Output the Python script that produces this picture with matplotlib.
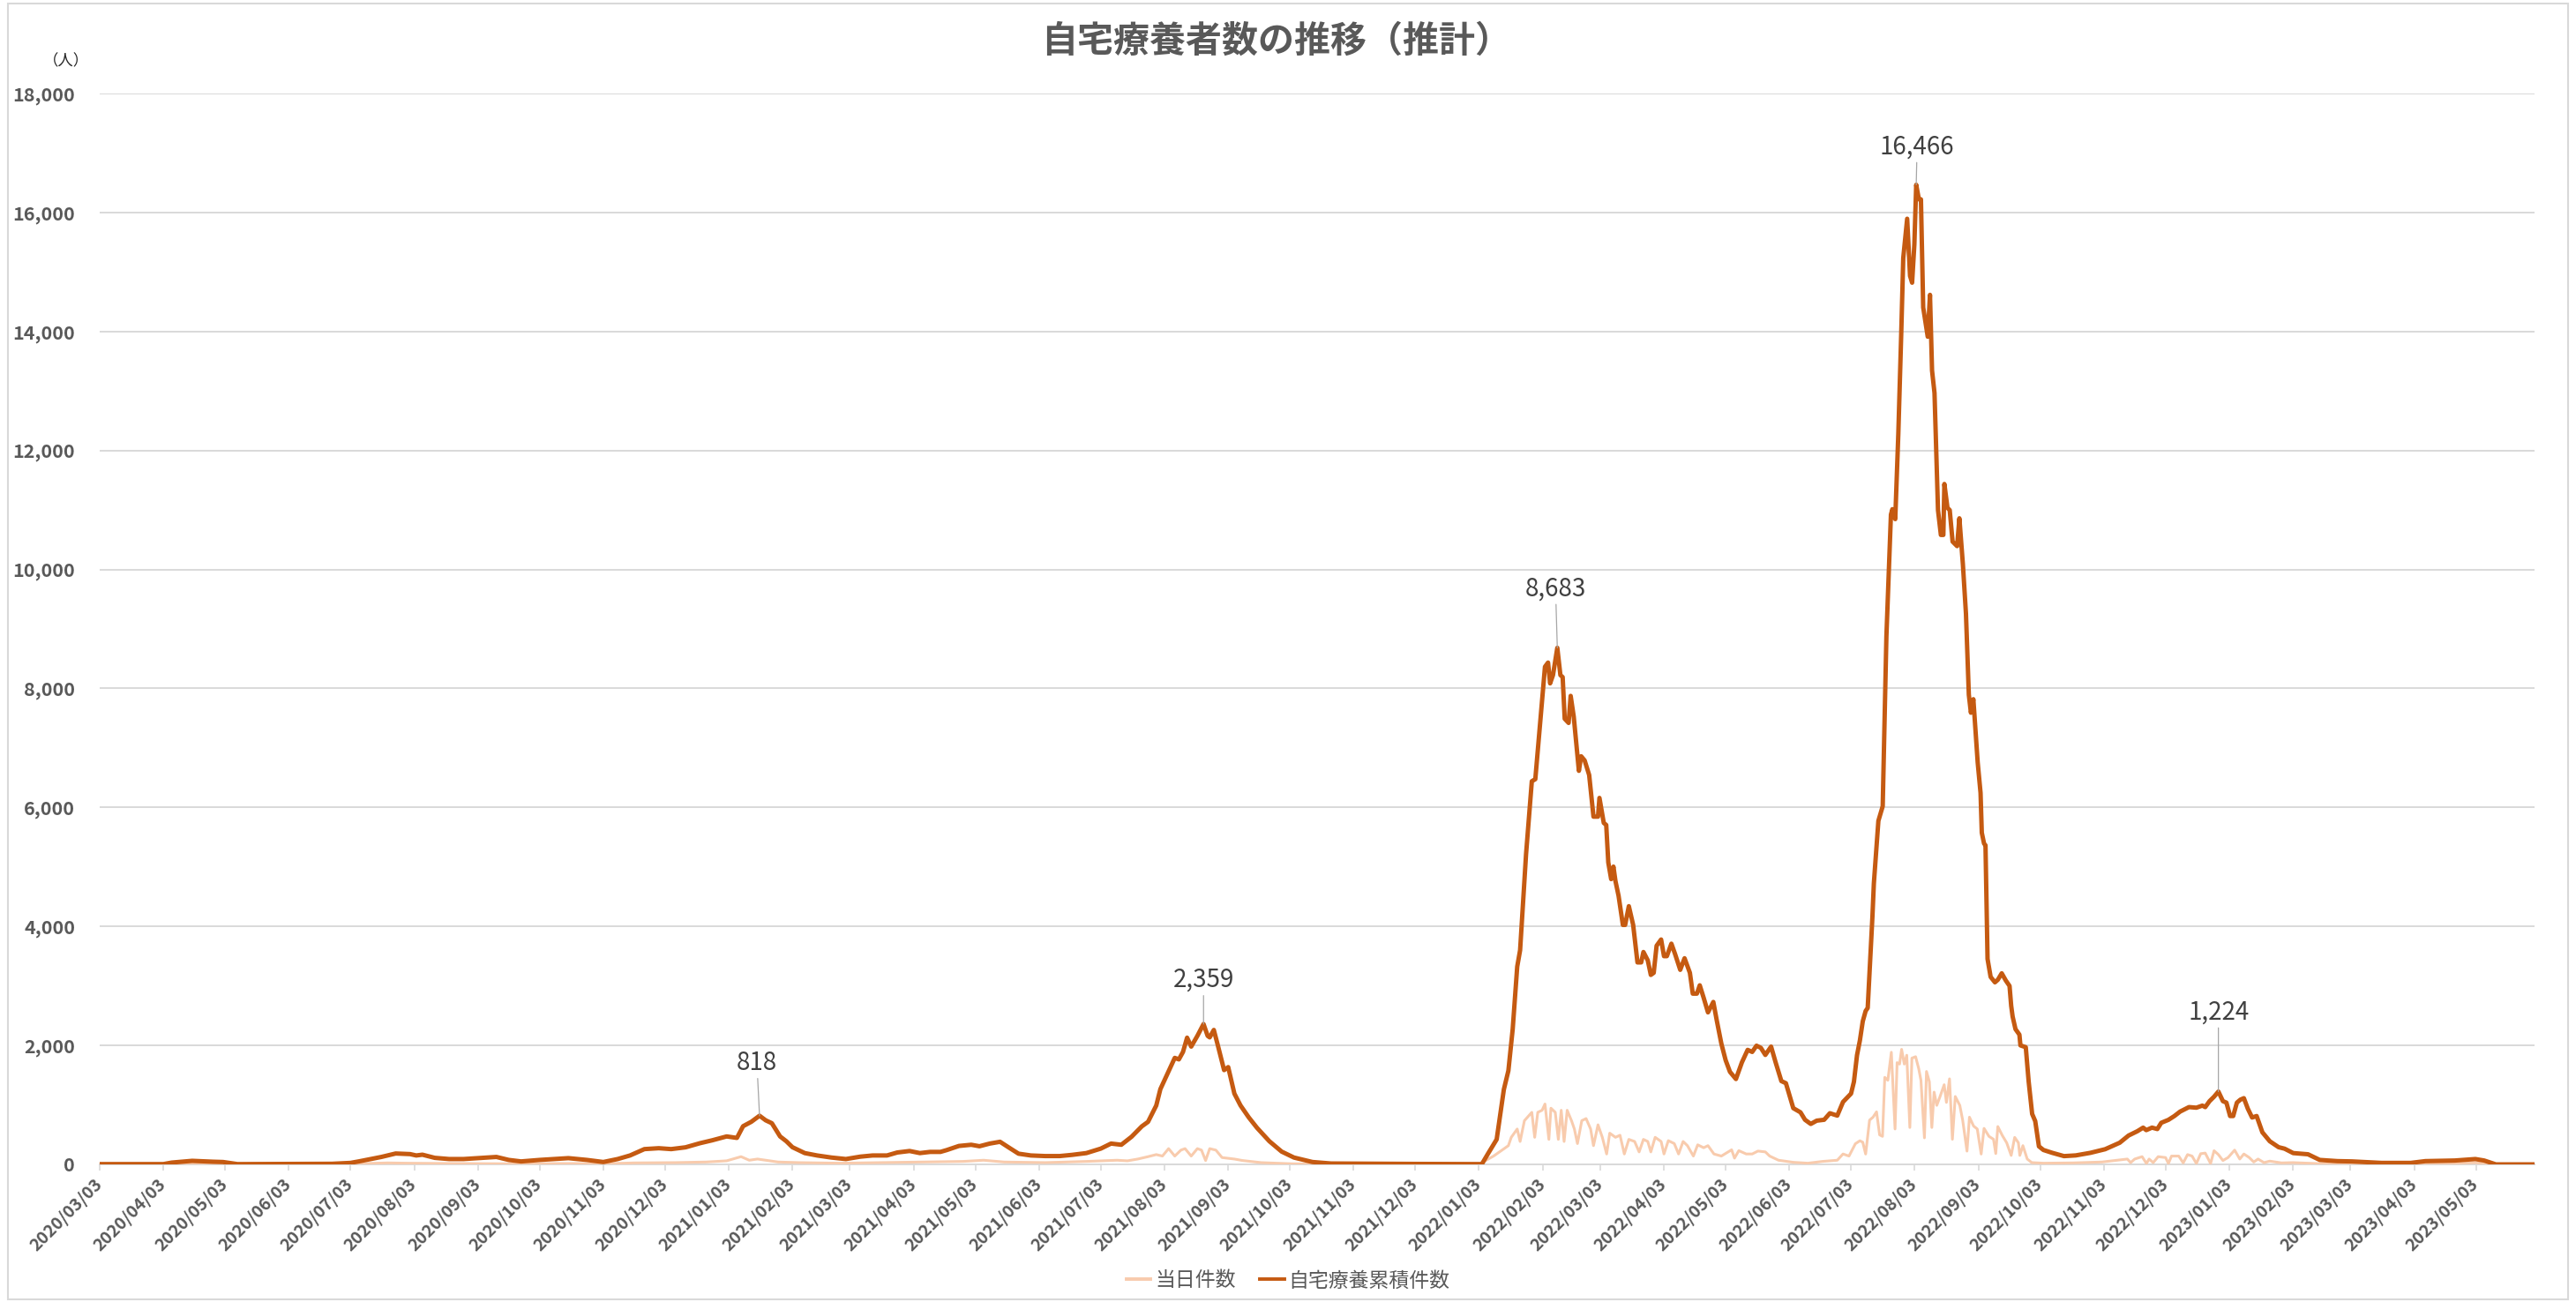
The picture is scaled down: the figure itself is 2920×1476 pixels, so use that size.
import numpy as np
import matplotlib
matplotlib.use("Agg")
import matplotlib.pyplot as plt
import matplotlib.dates as mdates
from matplotlib.lines import Line2D
from matplotlib.patches import Rectangle
from matplotlib.ticker import FuncFormatter, MultipleLocator

plt.rcParams['font.family'] = ['Noto Sans CJK JP', 'DejaVu Sans']

TITLE = '自宅療養者数の推移（推計）'
UNIT = '（人）'
SERIES_NAMES = ['当日件数', '自宅療養累積件数']
DAY0 = np.datetime64('2020-03-03')
LAST_DAY = 1184.5

# (days since 2020/03/03, persons) -- 自宅療養累積件数
home_2020 = [(0, 5), (31, 5), (35, 30), (45, 60), (55, 45), (60, 40), (67, 5),
             (113, 10), (122, 25), (126, 50), (137, 125), (144, 183), (151, 173),
             (154, 150), (157, 163), (163, 110), (170, 90), (177, 90), (186, 110),
             (193, 125), (199, 75), (205, 50), (214, 75), (228, 105), (237, 75),
             (245, 40), (252, 90), (258, 150), (265, 257), (272, 272), (278, 257),
             (285, 287), (292, 356), (298, 405), (305, 470), (310, 445), (313, 642),
             (317, 716), (321, 818), (324, 741), (327, 692), (331, 470), (334, 390),
             (337, 289)]
home_2021 = [(343, 190), (349, 150), (356, 115), (363, 90), (370, 130), (376, 150),
             (383, 150), (388, 200), (394, 225), (399, 190), (404, 210), (409, 210),
             (412, 240), (418, 310), (424, 330), (428, 305), (433, 350), (438, 380),
             (442, 290), (447, 180), (453, 150), (460, 140), (467, 140), (473, 160),
             (480, 190), (487, 265), (492, 350), (497, 330), (502, 465), (507, 640),
             (510, 715), (514, 990), (516, 1265), (519, 1490), (523, 1790), (525, 1765),
             (527, 1890), (529, 2130), (531, 1980), (534, 2160), (537, 2359), (539, 2160),
             (540, 2135), (542, 2260), (544, 1995), (547, 1585), (549, 1635), (552, 1190),
             (555, 990), (559, 790), (563, 615), (569, 390), (575, 215), (581, 115),
             (590, 40), (599, 15), (640, 8), (671, 5)]
home_2022a = [(672.4, 5), (675.3, 175), (679.6, 420), (683.1, 1260), (685.3, 1575),
              (687.4, 2275), (689.6, 3325), (691, 3600), (693.9, 5215), (696.7, 6440),
              (698.4, 6475), (701.7, 7800), (703.1, 8365), (704.6, 8435), (705.6, 8085),
              (707, 8225), (709.1, 8683), (710.6, 8225), (711.7, 8190), (712.7, 7490),
              (714.6, 7420), (715.6, 7875), (717.1, 7525), (719.6, 6615), (720.7, 6860),
              (722.4, 6790), (724.6, 6545), (726.7, 5845), (728.9, 5845), (729.6, 6160),
              (731.7, 5740), (732.9, 5705), (733.9, 5075), (735.3, 4795), (736.4, 5005),
              (737.4, 4760), (738.9, 4515), (741, 4025), (742.1, 4025), (743.9, 4340),
              (746, 4025), (748.1, 3395), (749.9, 3395), (751, 3570), (753.1, 3430),
              (754.6, 3185), (756, 3220), (757.4, 3675), (759.6, 3780), (761, 3500),
              (762.4, 3500), (764.6, 3710), (766.4, 3535), (768.9, 3270), (771, 3465),
              (773.6, 3220), (775, 2870), (777, 2870), (778.4, 3010), (780.3, 2800),
              (782.4, 2555), (785, 2730), (786.7, 2415), (788.9, 2030), (791, 1750),
              (793.1, 1555), (796, 1435), (798.9, 1715), (801.7, 1925), (803.9, 1890),
              (806, 1995), (808.1, 1960), (810.3, 1840), (813.1, 1980), (815.3, 1715),
              (818.1, 1400), (820.3, 1365), (823.9, 945), (827.4, 875), (829.6, 750),
              (832.4, 680), (835.3, 735), (838.9, 750), (841.7, 860), (845.3, 820),
              (848.1, 1050)]
home_2022b = [(852, 1190), (853.4, 1389), (854.9, 1835), (856.3, 2083), (857.7, 2405),
              (859.1, 2579), (860.1, 2629), (861.3, 3422), (862.4, 4166), (863.1, 4725),
              (865.3, 5775), (867.4, 6020), (869.2, 8878), (871.4, 10922), (872.1, 11013),
              (873.5, 10846), (875.0, 12285), (876.4, 13950), (877.4, 15237), (879.3, 15895),
              (880.7, 14934), (881.7, 14820), (882.8, 15464), (883.7, 16466), (885.0, 16221),
              (886.0, 16221), (887.1, 14404), (889.3, 13912), (890.4, 14616), (891.4, 13344),
              (892.6, 12966), (894.3, 10997), (895.7, 10580), (896.9, 10580), (897.4, 11437),
              (898.9, 11036), (900.0, 10997), (901.4, 10468), (903.6, 10392), (904.7, 10860),
              (906.4, 10090), (907.9, 9257), (909.3, 7894), (910.3, 7592), (911.5, 7819),
              (913.6, 6760), (915.0, 6244), (915.6, 5575), (916.7, 5393), (917.4, 5363),
              (917.9, 4363), (918.4, 3454), (919.9, 3151), (922, 3060), (923.4, 3103),
              (925.3, 3212), (927.3, 3090), (929.1, 3000), (929.9, 2666), (930.6, 2485),
              (932, 2273), (933.9, 2181), (934.4, 2000), (937, 1970), (938.4, 1394),
              (940.1, 848), (941.6, 727), (943.4, 303), (945.6, 242), (949.9, 194),
              (955.6, 139), (961.3, 151), (968.4, 194), (975.6, 255), (982.7, 364),
              (987, 485), (991.3, 558), (994.1, 618), (995.6, 576), (998.4, 618),
              (1001, 594)]
home_2023 = [(1002.9, 699), (1006.4, 749), (1009.3, 813), (1012.1, 888), (1016.4, 963),
             (1020, 953), (1022.9, 988), (1024.3, 963), (1026.4, 1063), (1028.6, 1138),
             (1030.7, 1224), (1032.9, 1063), (1034.6, 1038), (1036.4, 813), (1037.9, 813),
             (1039.7, 1038), (1041.4, 1088), (1043.1, 1113), (1045, 938), (1047.1, 788),
             (1049.3, 813), (1052.1, 539), (1055.7, 389), (1060, 289), (1062.9, 264),
             (1067.1, 190), (1074.3, 170), (1080, 75), (1088.6, 55), (1095.7, 50),
             (1110, 25), (1124.3, 25), (1131.4, 55), (1145.7, 65), (1155.7, 90),
             (1160, 65), (1165.7, 0), (1184.5, 0)]

# (days since 2020/03/03, persons) -- 当日件数
daily_2020_21 = [(0, 0), (30, 0), (40, 10), (60, 5), (110, 0), (125, 10), (140, 25),
                 (150, 20), (170, 15), (200, 10), (230, 15), (245, 10), (260, 25),
                 (280, 30), (295, 40), (305, 60), (312, 130), (316, 70), (320, 90),
                 (330, 40), (340, 30), (360, 20), (380, 30), (400, 40), (420, 50),
                 (430, 70), (440, 40), (460, 30), (480, 50), (495, 70), (500, 60),
                 (505, 90), (510, 130), (514, 165), (517, 140), (520, 265), (523, 140),
                 (526, 240), (528, 265), (531, 140), (534, 265), (536, 240), (538, 65),
                 (540, 265), (543, 240), (546, 115), (552, 90), (556, 65), (565, 30),
                 (580, 10), (600, 3), (671, 3)]
daily_2022a = [(678.1, 140), (682.4, 245), (685.3, 315), (686.7, 455), (689.6, 595),
               (691, 385), (693.1, 735), (696.7, 875), (698.1, 455), (699.6, 875),
               (701.7, 910), (703.1, 1015), (705, 420), (706, 945), (708.1, 875),
               (709.6, 420), (711, 910), (712.4, 385), (713.9, 910), (716, 735),
               (717.4, 595), (718.9, 350), (721, 735), (723.1, 770), (725.3, 595),
               (726.7, 315), (728.9, 665), (731, 455), (733.1, 175), (734.6, 525),
               (737.4, 455), (739.6, 490), (741.7, 175), (743.9, 420), (746.7, 385),
               (748.9, 210), (751, 420), (753.1, 385), (754.6, 210), (756.7, 455),
               (759.6, 385), (761, 175), (763.1, 399), (766, 350), (768.1, 175),
               (770.3, 385), (772.4, 315), (775.3, 140), (777.4, 329), (780.3, 280),
               (782.4, 315), (785.3, 175), (788.9, 140), (793.9, 245), (795.3, 105),
               (797.4, 231), (801, 175), (803.9, 175), (806.7, 224), (810.3, 210),
               (812.4, 140), (816.7, 70), (823.9, 35), (831, 20), (838.1, 50),
               (845.3, 70), (848.1, 175), (851, 140)]
daily_2022b = [(854.1, 347), (856.3, 397), (857.7, 372), (859.1, 174), (861, 744),
               (862.7, 794), (864.4, 883), (865.9, 496), (867.3, 471), (868.4, 1463),
               (869.9, 1414), (871.6, 1885), (873.4, 595), (874.4, 1711), (875.6, 1686),
               (876.6, 1934), (877.9, 1686), (879.1, 1835), (880.6, 620), (881.6, 1786),
               (883.4, 1810), (884.9, 1612), (886, 1414), (887.7, 446), (888.7, 1562),
               (890.1, 1389), (891.3, 620), (892.4, 1215), (893.7, 992), (895.3, 1141),
               (897.3, 1339), (898.4, 1042), (899.9, 1438), (901.3, 422), (902.7, 1141),
               (904.9, 992), (906.3, 744), (908.4, 223), (909.6, 794), (911.6, 645),
               (913.4, 595), (915.3, 174), (916.7, 605), (919.1, 471), (921.3, 422),
               (922.4, 182), (923.4, 636), (925.6, 485), (927.7, 364), (929.9, 151),
               (931.6, 454), (933.4, 364), (934.1, 151), (935.6, 315), (937.7, 91),
               (939.9, 30), (945.6, 20), (960, 25), (974, 40)]
daily_2023 = [(986.4, 90), (988, 30), (990, 90), (993.6, 130), (995.7, 15), (997, 90),
              (999, 30), (1001.4, 130), (1005, 115), (1006.4, 15), (1007.9, 140),
              (1011.4, 140), (1013.6, 25), (1015.7, 165), (1017.9, 140), (1020, 15),
              (1022.1, 180), (1024.3, 190), (1026.9, 15), (1028.6, 230), (1030.7, 165),
              (1032.9, 65), (1035.4, 115), (1038.6, 240), (1041.1, 90), (1043.1, 175),
              (1045.7, 115), (1047.9, 40), (1050, 90), (1052.9, 30), (1055.7, 55),
              (1061.4, 25), (1067, 30), (1081.4, 10), (1110, 10), (1138.6, 15),
              (1155.7, 30), (1161.4, 10), (1165.7, 0), (1184.5, 0)]

# labelled peaks of 自宅療養累積件数
peak_days = [321, 537, 709.1, 883.7, 1030.7]
peak_values = [818, 2359, 8683, 16466, 1224]

DARK = '#C55A11'
LIGHT = '#F8CBAD'
GREY = '#595959'
GRID = '#D9D9D9'


def to_dates(days):
    mins = np.round(np.asarray(days, dtype=float) * 24 * 60).astype('timedelta64[m]')
    return DAY0 + mins


def split(*parts):
    rows = [p for part in parts for p in part]
    days, vals = zip(*rows)
    return to_dates(days), np.array(vals, dtype=float)


home_x, home_y = split(home_2020, home_2021, home_2022a, home_2022b, home_2023)
daily_x, daily_y = split(daily_2020_21, daily_2022a, daily_2022b, daily_2023)

fig = plt.figure(figsize=(29.2, 14.76), dpi=100)
ax = fig.add_axes([113 / 2920, 1 - 1320 / 1476, (2873 - 113) / 2920, 1214 / 1476])

ax.plot(daily_x, daily_y, color=LIGHT, lw=2.2, solid_joinstyle='round', zorder=3)
ax.plot(home_x, home_y, color=DARK, lw=3.6, solid_joinstyle='round', zorder=4)

# data labels with leader lines (offsets in pixels)
offsets = [(-3, 60), (0, 50), (-2, 67), (1, 43), (0, 90)]
for d, v, (dx, dy) in zip(peak_days, peak_values, offsets):
    ax.annotate(f'{v:,}', xy=(to_dates([d])[0], v), xytext=(dx, dy),
                textcoords='offset pixels', ha='center', va='center',
                fontsize=20, color='#404040', zorder=6,
                arrowprops=dict(arrowstyle='-', color='#A6A6A6', lw=0.9,
                                shrinkA=0, shrinkB=0))

ax.set_xlim(DAY0, to_dates([LAST_DAY])[0])
ax.set_ylim(0, 18000)
ax.yaxis.set_major_locator(MultipleLocator(2000))
ax.yaxis.set_major_formatter(FuncFormatter(lambda v, p: f'{int(v):,}'))
ax.grid(axis='y', color=GRID, lw=1.4)
ax.set_axisbelow(True)

ax.xaxis.set_major_locator(mdates.MonthLocator(bymonthday=3))
ax.xaxis.set_major_formatter(mdates.DateFormatter('%Y/%m/%d'))

for s in ['top', 'right', 'left']:
    ax.spines[s].set_visible(False)
ax.spines['bottom'].set_color(GRID)
ax.spines['bottom'].set_linewidth(1.4)

ax.tick_params(axis='y', length=0, pad=20, labelsize=15.5, labelcolor=GREY)
ax.tick_params(axis='x', length=5, width=1.2, color=GRID, pad=9,
               labelsize=14, labelcolor=GREY)
for lab in ax.get_yticklabels():
    lab.set_fontweight('bold')
for lab in ax.get_xticklabels():
    lab.set_fontweight('bold')
    lab.set_rotation(45)
    lab.set_ha('right')
    lab.set_va('center')
    lab.set_rotation_mode('anchor')

fig.text(0.4955, 1 - 47 / 1476, TITLE, ha='center', va='center',
         fontsize=29.5, fontweight='bold', color=GREY)
fig.text(75 / 2920, 1 - 69 / 1476, UNIT, ha='center', va='center',
         fontsize=12.5, color='#262626')

handles = [Line2D([], [], color=LIGHT, lw=2.8), Line2D([], [], color=DARK, lw=2.8)]
fig.legend(handles, SERIES_NAMES, loc='center', bbox_to_anchor=(0.5, 1 - 1452 / 1476),
           ncol=2, frameon=False, fontsize=16.5, labelcolor=GREY,
           handlelength=1.2, handletextpad=0.2, columnspacing=1.2)

fig.patches.append(Rectangle((0.003, 0.002), 0.994, 0.995, transform=fig.transFigure,
                             fill=False, edgecolor=GRID, lw=1.5))

fig.savefig('out.png', dpi=100)
